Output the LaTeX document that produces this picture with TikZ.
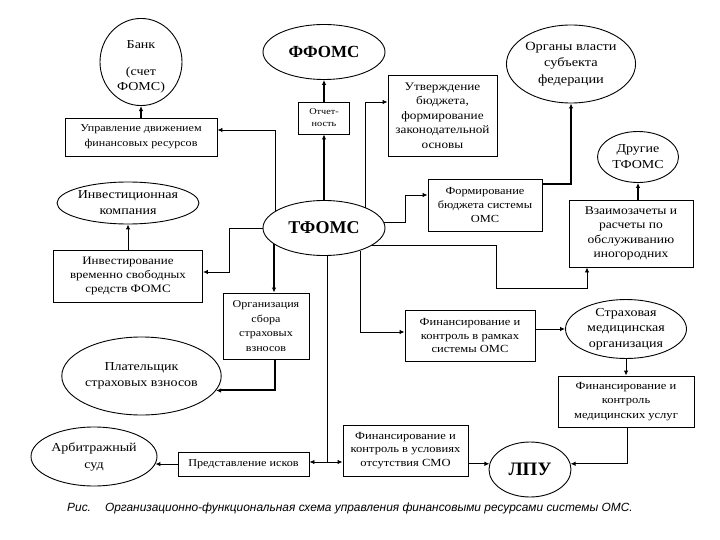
\documentclass[tikz,border=0pt]{standalone}
\usepackage{fontspec}
\setmainfont{Liberation Serif}[FakeStretch=1.15]
\newfontfamily\boldser{Liberation Serif}[BoldFont={* Bold}]
\setsansfont{Liberation Sans}
\usetikzlibrary{shapes.geometric,arrows.meta}
\tikzset{
  box/.style={draw, line width=0.9pt, rectangle, align=center, inner sep=1pt},
  ell/.style={draw, line width=0.9pt, ellipse, align=center, inner sep=0pt},
  conn/.style={line width=0.9pt, -{Latex[length=5pt,width=4.5pt]}},
  thk/.style={line width=2pt},
}
\newcommand{\fs}[2]{\fontsize{#1}{#2}\selectfont}
\begin{document}
\begin{tikzpicture}[x=1pt,y=-1pt]
\useasboundingbox (0,0) rectangle (720,540);
\fill[white] (0,0) rectangle (720,540);
% ellipses
\node[ell, minimum width=82pt, minimum height=80pt, font=\fs{12.2}{15}] (bank) at (141,62) {\mbox{}\\[2pt]Банк\\[12pt](счет\\ФОМС)};
\node[ell, minimum width=122pt, minimum height=55pt, font=\boldser\fs{17}{20}\bfseries] (ffoms) at (324,52) {ФФОМС};
\node[ell, minimum width=121pt, minimum height=78pt, font=\fs{12.5}{16.5}] (organy) at (571,64) {Органы власти\\субъекта\\федерации};
\node[ell, minimum width=81pt, minimum height=51pt, font=\fs{12.2}{16}] (drugie) at (638,157) {Другие\\ТФОМС};
\node[ell, minimum width=122pt, minimum height=55pt, font=\boldser\fs{18}{20}\bfseries] (tfoms) at (324,228) {ТФОМС};
\node[ell, minimum width=127pt, minimum height=42pt, font=\fs{12.2}{16}] (invk) at (128,203) {Инвестиционная\\компания};
\node[ell, minimum width=121pt, minimum height=54pt, font=\fs{12.2}{15.5}] (strah) at (626,329) {Страховая\\медицинская\\организация};
\node[ell, minimum width=122pt, minimum height=78pt, font=\fs{12.2}{16}] (platel) at (141.5,376) {Плательщик\\страховых взносов};
\node[ell, minimum width=126pt, minimum height=59pt, font=\fs{12.2}{17}] (arb) at (94,456.5) {Арбитражный\\суд};
\node[ell, minimum width=82pt, minimum height=55pt, font=\boldser\fs{19}{20}\bfseries] (lpu) at (530,469.5) {ЛПУ};
% boxes
\node[box, minimum width=109pt, minimum height=81pt, font=\fs{11.5}{14.5}] (utv) at (442.5,115.5) {Утверждение\\бюджета,\\формирование\\законодательной\\основы};
\node[box, minimum width=152pt, minimum height=38pt, font=\fs{10.5}{15}] (upr) at (141,137) {Управление движением\\финансовых ресурсов};
\node[box, minimum width=51pt, minimum height=32pt, font=\fs{8.9}{12}] (otch) at (324,118) {Отчет-\\ность};
\node[box, minimum width=149pt, minimum height=52pt, font=\fs{11.3}{14}] (invst) at (128,276) {Инвестирование\\временно свободных\\средств ФОМС};
\node[box, minimum width=114pt, minimum height=52pt, font=\fs{10.8}{14}] (form) at (485,205) {Формирование\\бюджета системы\\ОМС};
\node[box, minimum width=124pt, minimum height=67pt, font=\fs{11.8}{14.3}] (vzaim) at (631,233.5) {Взаимозачеты и\\расчеты по\\обслуживанию\\иногородних};
\node[box, minimum width=86pt, minimum height=66pt, font=\fs{10.5}{14.5}] (org) at (266,326) {Организация\\сбора\\страховых\\взносов};
\node[box, minimum width=130pt, minimum height=51pt, font=\fs{10.9}{13.5}] (finr) at (470,335.5) {Финансирование и\\контроль в рамках\\системы ОМС};
\node[box, minimum width=136pt, minimum height=51pt, font=\fs{10.9}{14.5}] (finmed) at (626,401.5) {Финансирование и\\контроль\\медицинских услуг};
\node[box, minimum width=131pt, minimum height=24pt, font=\fs{10.6}{14}] (pred) at (243.5,464) {Представление исков};
\node[box, minimum width=125pt, minimum height=51pt, font=\fs{10.9}{13.5}] (fins) at (405.5,450.5) {Финансирование и\\контроль в условиях\\отсутствия СМО};
% caption
\node[anchor=west, inner sep=0pt, font=\sffamily\itshape\fs{11.9}{13}] (cap) at (67,508) {Рис.\hspace{14pt}Организационно-функциональная схема управления финансовыми ресурсами системы ОМС.};
% bend points
\coordinate (w1) at (496,288);
\coordinate (w2) at (229,272);
\coordinate (w3) at (405,195);
% connectors
\draw[conn,thk] (upr.north) -- (bank.south);
\draw[conn] (tfoms.161.5) |- ([yshift=7pt]upr.east);
\draw[conn,thk] (otch.north) -- (ffoms.south);
\draw[conn,thk] (tfoms.north) -- (otch.south);
\draw[conn] (tfoms.26.4) |- ([yshift=13.5pt]utv.west);
\draw[conn] (tfoms.5.8) -| (w3) -- (w3 -| form.west);
\draw[conn,thk] ([yshift=21pt]form.east) -| (organy.south);
\draw[conn] (tfoms.340.5) -| (w1) -| ([xshift=-44pt]vzaim.south);
\draw[conn,thk] (drugie.south |- vzaim.north) -- (drugie.south);
\draw[conn] (tfoms.west) -| (w2) -- (w2 -| invst.east);
\draw[conn] (invst.north) -- (invk.south);
\draw[conn,thk] (tfoms.198.5) -- (tfoms.198.5 |- org.north);
\draw[conn,thk] ([xshift=9pt]org.south) |- (platel.349.4);
\draw[conn] ([xshift=3pt]tfoms.south) |- ([yshift=2pt]pred.east);
\draw[conn] ([xshift=3pt]tfoms.south) |- ([yshift=-11.5pt]fins.west);
\draw[conn] (tfoms.328.3) |- ([yshift=3.5pt]finr.west);
\draw[conn] (strah.west -| finr.east) -- (strah.west);
\draw[conn] (strah.south) -- (finmed.north);
\draw[conn] ([xshift=1pt]finmed.south) |- (lpu.8);
\draw[conn] (lpu.172 -| fins.east) -- (lpu.172);
\draw[conn] (arb.353 -| pred.west) -- (arb.353);
\end{tikzpicture}
\end{document}
